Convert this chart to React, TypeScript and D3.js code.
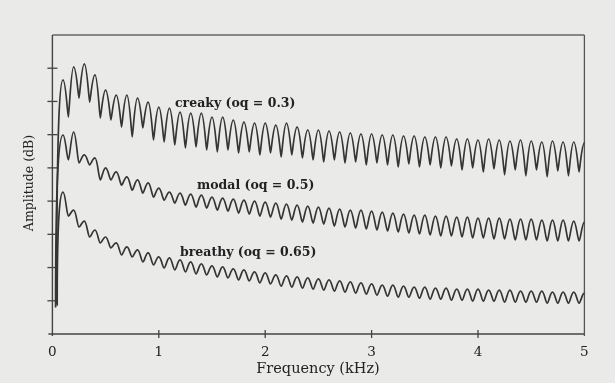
import React from 'react';
import * as d3 from 'd3';

// ---- data ----
const frequencyTicks = [0, 1, 2, 3, 4, 5]; // kHz
const amplitudeTicks = [10, 20, 30, 40, 50, 60, 70, 80]; // dB (unlabelled)
const harmonicSpacingKHz = 0.1; // F0 = 100 Hz
const onsetKHz = [0.04, 0.03, 0.045];
const onsetDb = [9, 8, 8.5];

const seriesLabels = ['creaky (oq = 0.3)', 'modal (oq = 0.5)', 'breathy (oq = 0.65)'];

// harmonic peak levels (dB), harmonics 1..50
const creakyPeaks = [76.5, 80.4, 81.3, 78.0, 73.4, 71.9, 71.9, 71.0, 69.8, 68.3, 68.0, 66.8, 66.5, 66.5, 65.3, 65.3, 64.4, 63.8, 63.5, 63.5, 62.9, 63.5, 62.3, 61.4, 61.4, 61.1, 60.8, 60.5, 60.2, 60.2, 59.9, 59.9, 59.6, 59.6, 59.3, 59.3, 59.3, 58.7, 58.7, 58.4, 58.7, 58.4, 58.1, 58.4, 58.1, 57.8, 58.1, 57.8, 57.8, 57.5];
// inter-harmonic trough levels (dB), between harmonics n and n+1
const creakyTroughs = [65.3, 71.0, 69.8, 65.0, 64.4, 62.3, 59.3, 62.0, 58.4, 57.8, 56.9, 56.0, 56.3, 55.4, 54.8, 55.4, 54.5, 54.8, 53.9, 54.5, 53.3, 53.9, 53.0, 52.4, 51.8, 52.4, 51.5, 51.8, 50.9, 51.5, 50.9, 50.3, 51.2, 50.3, 50.9, 50.0, 50.6, 49.4, 50.0, 48.8, 49.7, 47.9, 49.4, 47.6, 49.4, 47.3, 49.1, 47.6, 48.8];

const modalPeaks = [59.9, 60.8, 53.9, 53.0, 50.0, 48.8, 47.3, 46.4, 45.5, 43.9, 42.7, 42.4, 42.1, 41.8, 41.2, 40.9, 40.6, 40.3, 40.0, 39.7, 39.4, 39.1, 38.8, 38.5, 38.2, 37.9, 37.6, 37.3, 37.3, 37.0, 36.7, 36.4, 36.1, 35.8, 35.8, 35.5, 35.5, 35.2, 35.2, 34.9, 34.9, 34.9, 34.6, 34.6, 34.6, 34.3, 34.3, 34.3, 34.0, 33.7];
const modalTroughs = [52.4, 51.5, 50.9, 46.4, 46.4, 44.8, 43.3, 42.4, 41.2, 40.3, 39.4, 38.8, 38.2, 37.9, 37.3, 37.0, 36.4, 36.1, 35.5, 35.2, 34.6, 34.3, 33.7, 33.4, 33.1, 32.5, 32.2, 31.9, 31.6, 31.3, 31.0, 30.7, 30.4, 30.1, 29.8, 29.5, 29.5, 29.2, 28.9, 28.9, 28.6, 28.6, 28.3, 28.3, 28.3, 28.0, 28.0, 28.0, 28.0];

const breathyPeaks = [42.7, 37.3, 34.0, 31.3, 29.2, 27.4, 26.2, 25.3, 24.4, 23.2, 22.9, 22.3, 21.7, 21.1, 20.5, 20.2, 19.6, 19.3, 18.7, 18.4, 17.8, 17.5, 17.2, 16.9, 16.6, 16.3, 16.0, 15.7, 15.4, 15.1, 14.7, 14.7, 14.4, 14.1, 14.1, 13.8, 13.8, 13.5, 13.5, 13.5, 13.2, 13.2, 13.2, 12.9, 12.9, 12.9, 12.6, 12.6, 12.6, 12.3];
const breathyTroughs = [35.5, 32.2, 29.2, 27.4, 25.9, 23.8, 23.2, 21.7, 20.8, 19.9, 19.3, 18.7, 18.1, 17.8, 17.2, 16.9, 16.3, 16.0, 15.4, 15.1, 14.4, 14.1, 13.8, 13.5, 13.2, 12.9, 12.6, 12.3, 12.0, 11.7, 11.4, 11.1, 11.1, 10.8, 10.5, 10.5, 10.2, 10.2, 9.9, 9.9, 9.9, 9.6, 9.6, 9.6, 9.6, 9.3, 9.3, 9.3, 9.3];

// ---- layout ----
const W = 615;
const H = 383;
const M = { left: 52.4, right: 584.4, top: 35, bottom: 334 };
const INK = '#353535';
const PAPER = '#eaeae9';
const SERIF = "'DejaVu Serif', 'Liberation Serif', serif";

function spectrumPath(
  peaks: number[],
  troughs: number[],
  peakRound: number,
  troughRound: number,
  startKHz: number,
  startDb: number,
  x: d3.ScaleLinear<number, number>,
  y: d3.ScaleLinear<number, number>
): string {
  const p = d3.path();
  const sx = x(startKHz);
  const sy = y(startDb);
  p.moveTo(sx, sy);
  const p1x = x(harmonicSpacingKHz);
  const p1y = y(peaks[0]);
  p.bezierCurveTo(sx, p1y + (sy - p1y) * 0.15, p1x - (p1x - sx) * 0.45, p1y, p1x, p1y);
  for (let i = 0; i < peaks.length - 1; i++) {
    const px = x((i + 1) * harmonicSpacingKHz);
    const py = y(peaks[i]);
    const tx = x((i + 1.5) * harmonicSpacingKHz);
    const ty = y(troughs[i]);
    const nx = x((i + 2) * harmonicSpacingKHz);
    const ny = y(peaks[i + 1]);
    const dx = tx - px;
    p.bezierCurveTo(px + dx * peakRound, py, tx - dx * troughRound, ty, tx, ty);
    p.bezierCurveTo(tx + dx * troughRound, ty, nx - dx * peakRound, ny, nx, ny);
  }
  return p.toString();
}

export default function App() {
  const x = d3.scaleLinear().domain([0, 5]).range([M.left, M.right]);
  const y = d3.scaleLinear().domain([0, 90]).range([M.bottom, M.top]);

  const series = [
    { peaks: creakyPeaks, troughs: creakyTroughs, pr: 0.5, tr: 0.12, label: seriesLabels[0], lx: 175, ly: 107 },
    { peaks: modalPeaks, troughs: modalTroughs, pr: 0.45, tr: 0.25, label: seriesLabels[1], lx: 197, ly: 189 },
    { peaks: breathyPeaks, troughs: breathyTroughs, pr: 0.45, tr: 0.3, label: seriesLabels[2], lx: 180, ly: 256 },
  ];

  return (
    <svg
      width={W}
      height={H}
      viewBox={`0 0 ${W} ${H}`}
      style={{ position: 'absolute', left: 0, top: 0, display: 'block' }}
    >
      <defs>
        <filter id="soft" x="-5%" y="-5%" width="110%" height="110%">
          <feGaussianBlur stdDeviation="0.35" />
        </filter>
      </defs>
      <rect x={0} y={0} width={W} height={H} fill={PAPER} />

      <g filter="url(#soft)">
        {/* frame */}
        <line x1={M.left} x2={M.right} y1={M.top} y2={M.top} stroke="#666" strokeWidth={1.3} />
        <line x1={M.right} x2={M.right} y1={M.top} y2={M.bottom + 2} stroke="#555" strokeWidth={1.3} />
        <line x1={M.left} x2={M.left} y1={M.top} y2={M.bottom + 2} stroke="#444" strokeWidth={1.4} />
        <line x1={M.left - 4} x2={M.right} y1={M.bottom} y2={M.bottom} stroke="#444" strokeWidth={1.5} />

        {/* y ticks (crossing) */}
        {amplitudeTicks.map((t) => (
          <line key={t} x1={M.left - 5} x2={M.left + 5} y1={y(t)} y2={y(t)} stroke="#444" strokeWidth={1.3} />
        ))}
        {/* x ticks (crossing) */}
        {frequencyTicks.slice(1, -1).map((t) => (
          <line key={t} x1={x(t)} x2={x(t)} y1={M.bottom - 4} y2={M.bottom + 4} stroke="#444" strokeWidth={1.3} />
        ))}

        {series.map((s, i) => (
          <path
            key={s.label}
            d={spectrumPath(s.peaks, s.troughs, s.pr, s.tr, onsetKHz[i], onsetDb[i], x, y)}
            fill="none"
            stroke={INK}
            strokeWidth={1.7}
            strokeLinejoin="round"
          />
        ))}

        {series.map((s) => (
          <text
            key={'l' + s.label}
            x={s.lx}
            y={s.ly}
            fontFamily={SERIF}
            fontWeight="bold"
            fontSize={12.5}
            fill="#222"
          >
            {s.label}
          </text>
        ))}

        {frequencyTicks.map((t) => (
          <text
            key={'x' + t}
            x={x(t)}
            y={356}
            textAnchor="middle"
            fontFamily={SERIF}
            fontSize={13.5}
            fill="#222"
          >
            {t}
          </text>
        ))}
        <text
          x={318}
          y={373}
          textAnchor="middle"
          fontFamily={SERIF}
          fontSize={14.5}
          fill="#222"
        >
          Frequency (kHz)
        </text>
        <text
          transform={`translate(33, 183) rotate(-90)`}
          textAnchor="middle"
          fontFamily={SERIF}
          fontSize={12.5}
          fill="#222"
        >
          Amplitude (dB)
        </text>
      </g>
    </svg>
  );
}
